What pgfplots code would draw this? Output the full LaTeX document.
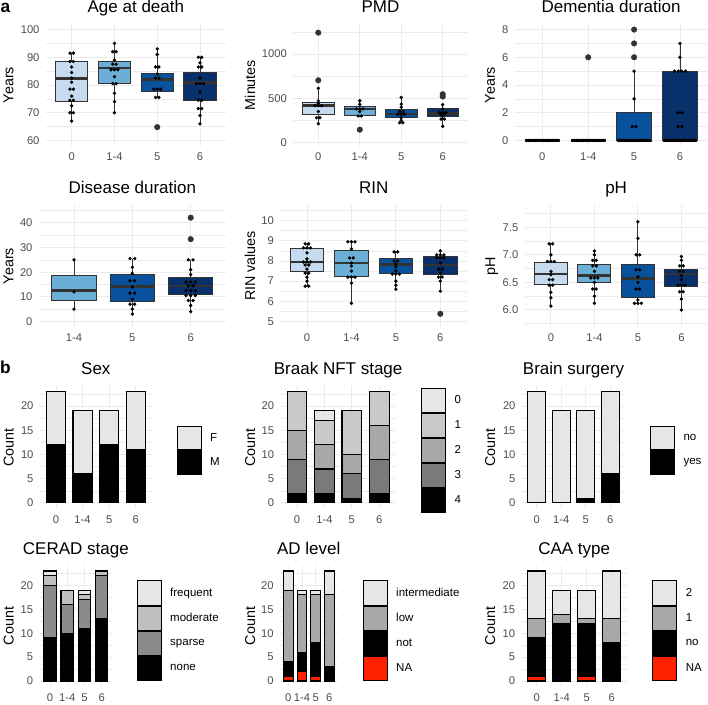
\documentclass[border=0pt]{standalone}
\usepackage{fontspec}
\setmainfont{Liberation Sans}
\usepackage{pgfplots}
\pgfplotsset{compat=1.18}
\usepgfplotslibrary{statistics}

\definecolor{c0}{HTML}{C6DBEF}
\definecolor{c1}{HTML}{6BAED6}
\definecolor{c2}{HTML}{08519C}
\definecolor{c3}{HTML}{08306B}
\definecolor{gridc}{HTML}{EBEBEB}
\definecolor{tickc}{HTML}{4D4D4D}
\definecolor{boxline}{HTML}{333333}
\definecolor{g0}{HTML}{E6E6E6}
\definecolor{g1}{HTML}{C9C9C9}
\definecolor{g2}{HTML}{A8A8A8}
\definecolor{g3}{HTML}{7A7A7A}
\definecolor{gm}{HTML}{BFBFBF}
\definecolor{gs}{HTML}{8B8B8B}
\definecolor{nared}{HTML}{FF2200}

\pgfplotsset{
  panel/.style={
    scale only axis, anchor=south west,
    axis line style={draw=none},
    major tick length=0pt, minor tick length=0pt,
    xmajorgrids, ymajorgrids, yminorgrids,
    major grid style={draw=gridc, line width=0.9pt},
    minor grid style={draw=gridc, line width=0.45pt},
    tick label style={font=\fontsize{11.2}{13}\selectfont, text=tickc},
    xticklabel style={yshift=-3.5pt},
    yticklabel style={xshift=-3pt},
    every axis title shift=0pt,
    title style={font=\fontsize{17}{20}\selectfont, at={(0.5,1)}, anchor=base, yshift=11.5pt},
    ylabel style={font=\fontsize{14.3}{16}\selectfont},
    /pgf/number format/assume math mode=true,
    /pgf/number format/1000 sep={},
  },
  four/.style={xmin=-0.6, xmax=3.6, xtick={0,1,2,3}, xticklabels={0,1-4,5,6}},
  ylabx/.style={ylabel style={at={(axis description cs:#1,0.5)}, anchor=base}},
  boxes/.style={boxplot/draw direction=y, boxplot/box extend=0.76, boxplot/whisker extend=0,
    boxplot/every median/.style={line width=2.6pt, draw=boxline}},
  bx/.style={draw=boxline, line width=0.9pt, solid, mark=none},
  dots/.style={only marks, mark=*, mark size=1.5pt, black},
  outl/.style={only marks, mark=*, mark size=2.8pt, boxline},
  boxlegend/.style={legend image code/.code={\draw[##1, draw=black, line width=1pt] (0pt,-#1) rectangle (24pt,#1);}},
  bars/.style={ybar stacked, bar width=0.72, ymin=-1.15, ymax=24.15,
    ytick={0,5,10,15,20}, minor ytick={2.5,7.5,12.5,17.5,22.5}, ylabel={Count},
    every axis plot/.append style={boxlegend=#1, draw=black, line width=1.1pt},
    reverse legend,
    legend style={draw=none, fill=none, inner sep=0pt, outer sep=0pt, row sep=0pt, column sep=8.5pt,
      anchor=north west, cells={anchor=west}, nodes={inner sep=0pt, outer sep=0pt, anchor=west, font=\fontsize{11.5}{13}\selectfont, text=black}},
  },
  lastrow/.style={xticklabel style={yshift=-0.5pt}},
}

\begin{document}
\begin{tikzpicture}
\useasboundingbox (0,0) rectangle (708pt,-704pt);
\node[font=\bfseries\fontsize{17.3}{20}\selectfont, anchor=base west, inner sep=0pt] at (0.5pt,-12.3pt) {a};
\node[font=\bfseries\fontsize{17.3}{20}\selectfont, anchor=base west, inner sep=0pt] at (0pt,-373.3pt) {b};

% ---------- Age at death
\begin{axis}[panel, four, boxes, at={(46pt,-146pt)}, width=179.7pt, height=122pt,
  ymin=58, ymax=102, ytick={60,70,80,90,100}, minor ytick={65,75,85,95},
  title={Age at death}, ylabel={Years}, ylabx=-0.181]
\addplot[bx, fill=c0, boxplot prepared={lower whisker=67, lower quartile=74.1, median=82.4, upper quartile=88.6, upper whisker=91.6, draw position=0}] coordinates {};
\addplot[bx, fill=c1, boxplot prepared={lower whisker=70, lower quartile=80.4, median=86.1, upper quartile=88.4, upper whisker=95.1, draw position=1}] coordinates {};
\addplot[bx, fill=c2, boxplot prepared={lower whisker=75.3, lower quartile=77.8, median=82.0, upper quartile=84.0, upper whisker=93, draw position=2}] coordinates {};
\addplot[bx, fill=c3, boxplot prepared={lower whisker=65.9, lower quartile=74.3, median=80.8, upper quartile=84.5, upper whisker=90, draw position=3}] coordinates {};
\addplot[outl] coordinates {(2,64.8)};
\addplot[dots] coordinates {(-0.04,91.5)(0.04,91.5)(-0.04,88.5)(0.04,88.5)(0,86.5)(0,84.5)(0,82.5)(0,81)(-0.04,78.5)(0.04,78.5)(0,76)(-0.04,74.5)(0.04,74.5)(0,72.5)(-0.04,70)(0.04,70)(0,67)
(1,95)(0.96,92)(1.04,92)(1,89)(0.96,87.5)(1.04,87.5)(0.92,85.5)(1,85.5)(1.08,85.5)(1,83)(0.96,80.5)(1.04,80.5)(1,77)(1,74)(1,70)
(2,93)(2,91)(1.96,86.5)(2.04,86.5)(2,84)(1.96,82.5)(2.04,82.5)(1.92,78.5)(2,78.5)(2.08,78.5)(1.96,75.5)(2.04,75.5)
(2.96,90)(3.04,90)(3,88)(2.96,86.5)(3.04,86.5)(3,82.5)(2.92,80.5)(3,80.5)(3.08,80.5)(3,77.5)(2.96,74.5)(3.04,74.5)(2.96,71.5)(3.04,71.5)(3,69)(3,66)};
\end{axis}

% ---------- PMD
\begin{axis}[panel, four, boxes, at={(293.4pt,-146pt)}, width=174.2pt, height=122pt,
  ymin=-40, ymax=1340, ytick={0,500,1000}, minor ytick={250,750,1250},
  title={PMD}, ylabel={Minutes}, ylabx=-0.220]
\addplot[bx, fill=c0, boxplot prepared={lower whisker=212, lower quartile=316, median=416, upper quartile=453, upper whisker=613, draw position=0}] coordinates {};
\addplot[bx, fill=c1, boxplot prepared={lower whisker=290, lower quartile=305, median=379, upper quartile=405, upper whisker=472, draw position=1}] coordinates {};
\addplot[bx, fill=c2, boxplot prepared={lower whisker=223, lower quartile=279, median=323, upper quartile=379, upper whisker=509, draw position=2}] coordinates {};
\addplot[bx, fill=c3, boxplot prepared={lower whisker=182, lower quartile=294, median=331, upper quartile=387, upper whisker=427, draw position=3}] coordinates {};
\addplot[outl] coordinates {(0,703)(0,1242)(1,145)(3,546)(3,520)};
\addplot[dots] coordinates {(0,613)(0,470)(0,440)(-0.08,416)(0,416)(0.08,416)(0,350)(-0.04,280)(0.04,280)(0,212)
(1,472)(1,430)(0.92,380)(1,380)(1.08,380)(1,350)(0.96,300)(1.04,300)
(2,509)(2,433)(2,400)(1.96,350)(2.04,350)(1.92,320)(2,320)(2.08,320)(2,280)(2,250)(1.96,223)(2.04,223)
(3,427)(3,380)(2.92,340)(3,340)(3.08,340)(2.96,320)(3.04,320)(3,300)(2.96,265)(3.04,265)(3,182)};
\end{axis}

% ---------- Dementia duration
\begin{axis}[panel, four, boxes, at={(514.8pt,-146pt)}, width=192.7pt, height=122pt,
  ymin=-0.4, ymax=8.4, ytick={0,2,4,6,8}, minor ytick={1,3,5,7},
  title={Dementia duration}, ylabel={Years}, ylabx=-0.103]
\addplot[bx, fill=c0, boxplot prepared={lower whisker=0, lower quartile=0, median=0, upper quartile=0, upper whisker=0, draw position=0}] coordinates {};
\addplot[bx, fill=c1, boxplot prepared={lower whisker=0, lower quartile=0, median=0, upper quartile=0, upper whisker=0, draw position=1}] coordinates {};
\addplot[bx, fill=c2, boxplot prepared={lower whisker=0, lower quartile=0, median=0, upper quartile=2, upper whisker=5, draw position=2}] coordinates {};
\addplot[bx, fill=c3, boxplot prepared={lower whisker=0, lower quartile=0, median=0, upper quartile=5, upper whisker=7, draw position=3}] coordinates {};
\addplot[outl] coordinates {(1,6)(2,6)(2,7)(2,8)};
\addplot[dots] coordinates {(-0.34,0)(-0.30,0)(-0.26,0)(-0.22,0)(-0.18,0)(-0.14,0)(-0.10,0)(-0.06,0)(-0.02,0)(0.02,0)(0.06,0)(0.10,0)(0.14,0)(0.18,0)(0.22,0)(0.26,0)(0.30,0)(0.34,0)
(0.66,0)(0.70,0)(0.74,0)(0.78,0)(0.82,0)(0.86,0)(0.90,0)(0.94,0)(0.98,0)(1.02,0)(1.06,0)(1.10,0)(1.14,0)(1.18,0)(1.22,0)(1.26,0)(1.30,0)(1.34,0)
(1.66,0)(1.70,0)(1.74,0)(1.78,0)(1.82,0)(1.86,0)(1.90,0)(1.94,0)(1.98,0)(2.02,0)(2.06,0)(2.10,0)(2.14,0)(2.18,0)(2.22,0)(2.26,0)(2.30,0)(2.34,0)
(2,5)(2,3)(1.96,1)(2.04,1)
(2.66,0)(2.70,0)(2.74,0)(2.78,0)(2.82,0)(2.86,0)(2.90,0)(2.94,0)(2.98,0)(3.02,0)(3.06,0)(3.10,0)(3.14,0)(3.18,0)(3.22,0)(3.26,0)(3.30,0)(3.34,0)
(3,7)(3,6)(2.88,5)(2.96,5)(3.04,5)(3.12,5)(2.96,2)(3.04,2)(2.96,1)(3.04,1)};
\end{axis}

% ---------- Disease duration
\begin{axis}[panel, boxes, at={(39pt,-327pt)}, width=186.7pt, height=122pt,
  xmin=0.4, xmax=3.6, xtick={1,2,3}, xticklabels={1-4,5,6},
  ymin=-2.25, ymax=47.25, ytick={0,10,20,30,40}, minor ytick={5,15,25,35,45},
  title={Disease duration}, ylabel={Years}, ylabx=-0.137]
\addplot[bx, fill=c1, boxplot prepared={lower whisker=5.4, lower quartile=8.7, median=12.5, upper quartile=18.5, upper whisker=25.1, draw position=1}] coordinates {};
\addplot[bx, fill=c2, boxplot prepared={lower whisker=3.1, lower quartile=8.1, median=14.2, upper quartile=19.1, upper whisker=25.5, draw position=2}] coordinates {};
\addplot[bx, fill=c3, boxplot prepared={lower whisker=4.3, lower quartile=11.0, median=14.4, upper quartile=17.7, upper whisker=25.1, draw position=3}] coordinates {};
\addplot[outl] coordinates {(3,33.4)(3,42.1)};
\addplot[dots] coordinates {(1,25)(1,12)(1,5)
(1.96,25.5)(2.04,25.5)(2,22)(2,19.5)(1.96,16.5)(2.04,16.5)(2,14)(1.96,11.5)(2.04,11.5)(2,9)(1.96,7)(2.04,7)(2,5)(2,3)
(2.96,25)(3.04,25)(3,21)(3,19)(2.92,16)(3,16)(3.08,16)(2.96,14.5)(3.04,14.5)(2.92,12.5)(3,12.5)(3.08,12.5)(2.92,10.5)(3,10.5)(3.08,10.5)(2.96,8.5)(3.04,8.5)(3,6.5)(3,4)};
\end{axis}

% ---------- RIN
\begin{axis}[panel, four, boxes, at={(280.3pt,-327pt)}, width=186.7pt, height=122pt,
  ymin=4.725, ymax=10.775, ytick={5,6,7,8,9,10}, minor ytick={5.5,6.5,7.5,8.5,9.5,10.5},
  title={RIN}, ylabel={RIN values}, ylabx=-0.1355]
\addplot[bx, fill=c0, boxplot prepared={lower whisker=6.75, lower quartile=7.49, median=7.94, upper quartile=8.6, upper whisker=8.9, draw position=0}] coordinates {};
\addplot[bx, fill=c1, boxplot prepared={lower whisker=5.88, lower quartile=7.24, median=7.9, upper quartile=8.52, upper whisker=8.99, draw position=1}] coordinates {};
\addplot[bx, fill=c2, boxplot prepared={lower whisker=6.6, lower quartile=7.4, median=7.82, upper quartile=8.1, upper whisker=8.49, draw position=2}] coordinates {};
\addplot[bx, fill=c3, boxplot prepared={lower whisker=6.5, lower quartile=7.34, median=7.8, upper quartile=8.22, upper whisker=8.5, draw position=3}] coordinates {};
\addplot[outl] coordinates {(3,5.38)};
\addplot[dots] coordinates {(-0.04,8.85)(0.04,8.85)(-0.08,8.65)(0,8.65)(0.08,8.65)(0,8.4)(0,8.1)(-0.08,7.95)(0,7.95)(0.08,7.95)(-0.04,7.8)(0.04,7.8)(0,7.6)(-0.04,7.4)(0.04,7.4)(0,7.2)(0,7.0)(-0.04,6.75)(0.04,6.75)
(0.92,8.95)(1,8.95)(1.08,8.95)(1,8.6)(0.96,8.15)(1.04,8.15)(1,7.9)(1,7.75)(1,7.5)(0.92,7.2)(1,7.2)(1.08,7.2)(1,6.9)(1,5.9)
(1.96,8.45)(2.04,8.45)(1.96,8.0)(2.04,8.0)(2,7.85)(2,7.7)(2,7.5)(1.92,7.35)(2,7.35)(2.08,7.35)(2,7.0)(2,6.8)(2,6.6)
(3,8.5)(2.92,8.3)(3,8.3)(3.08,8.3)(2.92,8.15)(3,8.15)(3.08,8.15)(3,7.9)(2.96,7.6)(3.04,7.6)(3,7.4)(2.96,7.2)(3.04,7.2)(3,7.0)(3,6.5)};
\end{axis}

% ---------- pH
\begin{axis}[panel, four, boxes, at={(524.8pt,-327pt)}, width=182.7pt, height=122pt,
  ymin=5.69, ymax=7.905, ytick={6,6.5,7,7.5}, minor ytick={5.75,6.25,6.75,7.25,7.75},
  yticklabel style={/pgf/number format/.cd, fixed, fixed zerofill, precision=1},
  title={pH}, ylabel={pH}, ylabx=-0.163]
\addplot[bx, fill=c0, boxplot prepared={lower whisker=6.07, lower quartile=6.46, median=6.65, upper quartile=6.87, upper whisker=7.22, draw position=0}] coordinates {};
\addplot[bx, fill=c1, boxplot prepared={lower whisker=6.12, lower quartile=6.5, median=6.62, upper quartile=6.82, upper whisker=7.09, draw position=1}] coordinates {};
\addplot[bx, fill=c2, boxplot prepared={lower whisker=6.12, lower quartile=6.23, median=6.57, upper quartile=6.83, upper whisker=7.61, draw position=2}] coordinates {};
\addplot[bx, fill=c3, boxplot prepared={lower whisker=6.0, lower quartile=6.43, median=6.65, upper quartile=6.74, upper whisker=6.99, draw position=3}] coordinates {};
\addplot[dots] coordinates {(-0.04,7.2)(0.04,7.2)(0,7.0)(-0.08,6.88)(0,6.88)(0.08,6.88)(0,6.7)(0,6.64)(-0.04,6.55)(0.04,6.55)(-0.04,6.45)(0.04,6.45)(0,6.32)(0,6.22)(0,6.07)
(1,7.07)(1,7.0)(0.96,6.9)(1.04,6.9)(0.96,6.8)(1.04,6.8)(1,6.7)(0.92,6.58)(1,6.58)(1.08,6.58)(1,6.5)(0.96,6.38)(1.04,6.38)(1,6.25)(1,6.12)
(2,7.6)(2,7.3)(1.96,7.0)(2.04,7.0)(1.96,6.73)(2.04,6.73)(2,6.6)(2,6.5)(1.96,6.38)(2.04,6.38)(2,6.18)(1.92,6.12)(2,6.12)(2.08,6.12)
(3,6.97)(3,6.9)(2.96,6.8)(3.04,6.8)(2.96,6.7)(3.04,6.7)(3,6.62)(3,6.55)(2.92,6.45)(3,6.45)(3.08,6.45)(2.96,6.33)(3.04,6.33)(3,6.2)(3,6.0)};
\end{axis}

% ---------- Sex
\begin{axis}[panel, four, bars=11.8pt, at={(40pt,-508.5pt)}, width=111.7pt, height=122.5pt,
  title={Sex}, ylabx=-0.237, legend style={at={(1.224,0.676)}}]
\addplot[fill=black] coordinates {(0,12)(1,6)(2,12)(3,11)};
\addlegendentry{M}
\addplot[fill=g0] coordinates {(0,11)(1,13)(2,7)(3,12)};
\addlegendentry{F}
\end{axis}

% ---------- Braak NFT stage
\begin{axis}[panel, four, bars=12pt, at={(280.6pt,-508.5pt)}, width=115.1pt, height=122.5pt,
  title={Braak NFT stage}, ylabx=-0.222, legend style={at={(1.220,0.986)}}]
\addplot[fill=black] coordinates {(0,2)(1,2)(2,1)(3,2)};
\addlegendentry{4}
\addplot[fill=g3] coordinates {(0,7)(1,5)(2,5)(3,7)};
\addlegendentry{3}
\addplot[fill=g2] coordinates {(0,6)(1,5)(2,4)(3,7)};
\addlegendentry{2}
\addplot[fill=g1] coordinates {(0,8)(1,5)(2,9)(3,7)};
\addlegendentry{1}
\addplot[fill=g0] coordinates {(0,0)(1,2)(2,0)(3,0)};
\addlegendentry{0}
\end{axis}

% ---------- Brain surgery
\begin{axis}[panel, four, bars=11.8pt, at={(522pt,-508.5pt)}, width=103pt, height=122.5pt,
  title={Brain surgery}, ylabx=-0.262, legend style={at={(1.243,0.676)}}]
\addplot[fill=black] coordinates {(0,0)(1,0)(2,1)(3,6)};
\addlegendentry{yes}
\addplot[fill=g0] coordinates {(0,23)(1,19)(2,18)(3,17)};
\addlegendentry{no}
\end{axis}

% ---------- CERAD stage
\begin{axis}[panel, four, lastrow, bars=12.1pt, at={(39.7pt,-686.5pt)}, width=72.3pt, height=121pt,
  title={CERAD stage}, ylabx=-0.362, legend style={at={(1.342,0.877)}}]
\addplot[fill=black] coordinates {(0,9)(1,10)(2,11)(3,13)};
\addlegendentry{none}
\addplot[fill=gs] coordinates {(0,11)(1,6)(2,6)(3,9)};
\addlegendentry{sparse}
\addplot[fill=gm] coordinates {(0,2)(1,3)(2,1)(3,1)};
\addlegendentry{moderate}
\addplot[fill=g0] coordinates {(0,1)(1,0)(2,1)(3,0)};
\addlegendentry{frequent}
\end{axis}

% ---------- AD level
\begin{axis}[panel, four, lastrow, bars=12.1pt, at={(280.1pt,-686.5pt)}, width=57.4pt, height=121pt,
  title={AD level}, ylabx=-0.437, legend style={at={(1.439,0.877)}}]
\addplot[fill=nared] coordinates {(0,1)(1,2)(2,1)(3,0)};
\addlegendentry{NA}
\addplot[fill=black] coordinates {(0,3)(1,4)(2,7)(3,3)};
\addlegendentry{not}
\addplot[fill=g2] coordinates {(0,15)(1,12)(2,10)(3,15)};
\addlegendentry{low}
\addplot[fill=g0] coordinates {(0,4)(1,1)(2,1)(3,5)};
\addlegendentry{intermediate}
\end{axis}

% ---------- CAA type
\begin{axis}[panel, four, lastrow, bars=12.1pt, at={(521.7pt,-686.5pt)}, width=105pt, height=121pt,
  title={CAA type}, ylabx=-0.254, legend style={at={(1.244,0.877)}}]
\addplot[fill=nared] coordinates {(0,1)(1,0)(2,1)(3,0)};
\addlegendentry{NA}
\addplot[fill=black] coordinates {(0,8)(1,12)(2,11)(3,8)};
\addlegendentry{no}
\addplot[fill=g2] coordinates {(0,4)(1,2)(2,1)(3,5)};
\addlegendentry{1}
\addplot[fill=g0] coordinates {(0,10)(1,5)(2,6)(3,10)};
\addlegendentry{2}
\end{axis}
\end{tikzpicture}
\end{document}
